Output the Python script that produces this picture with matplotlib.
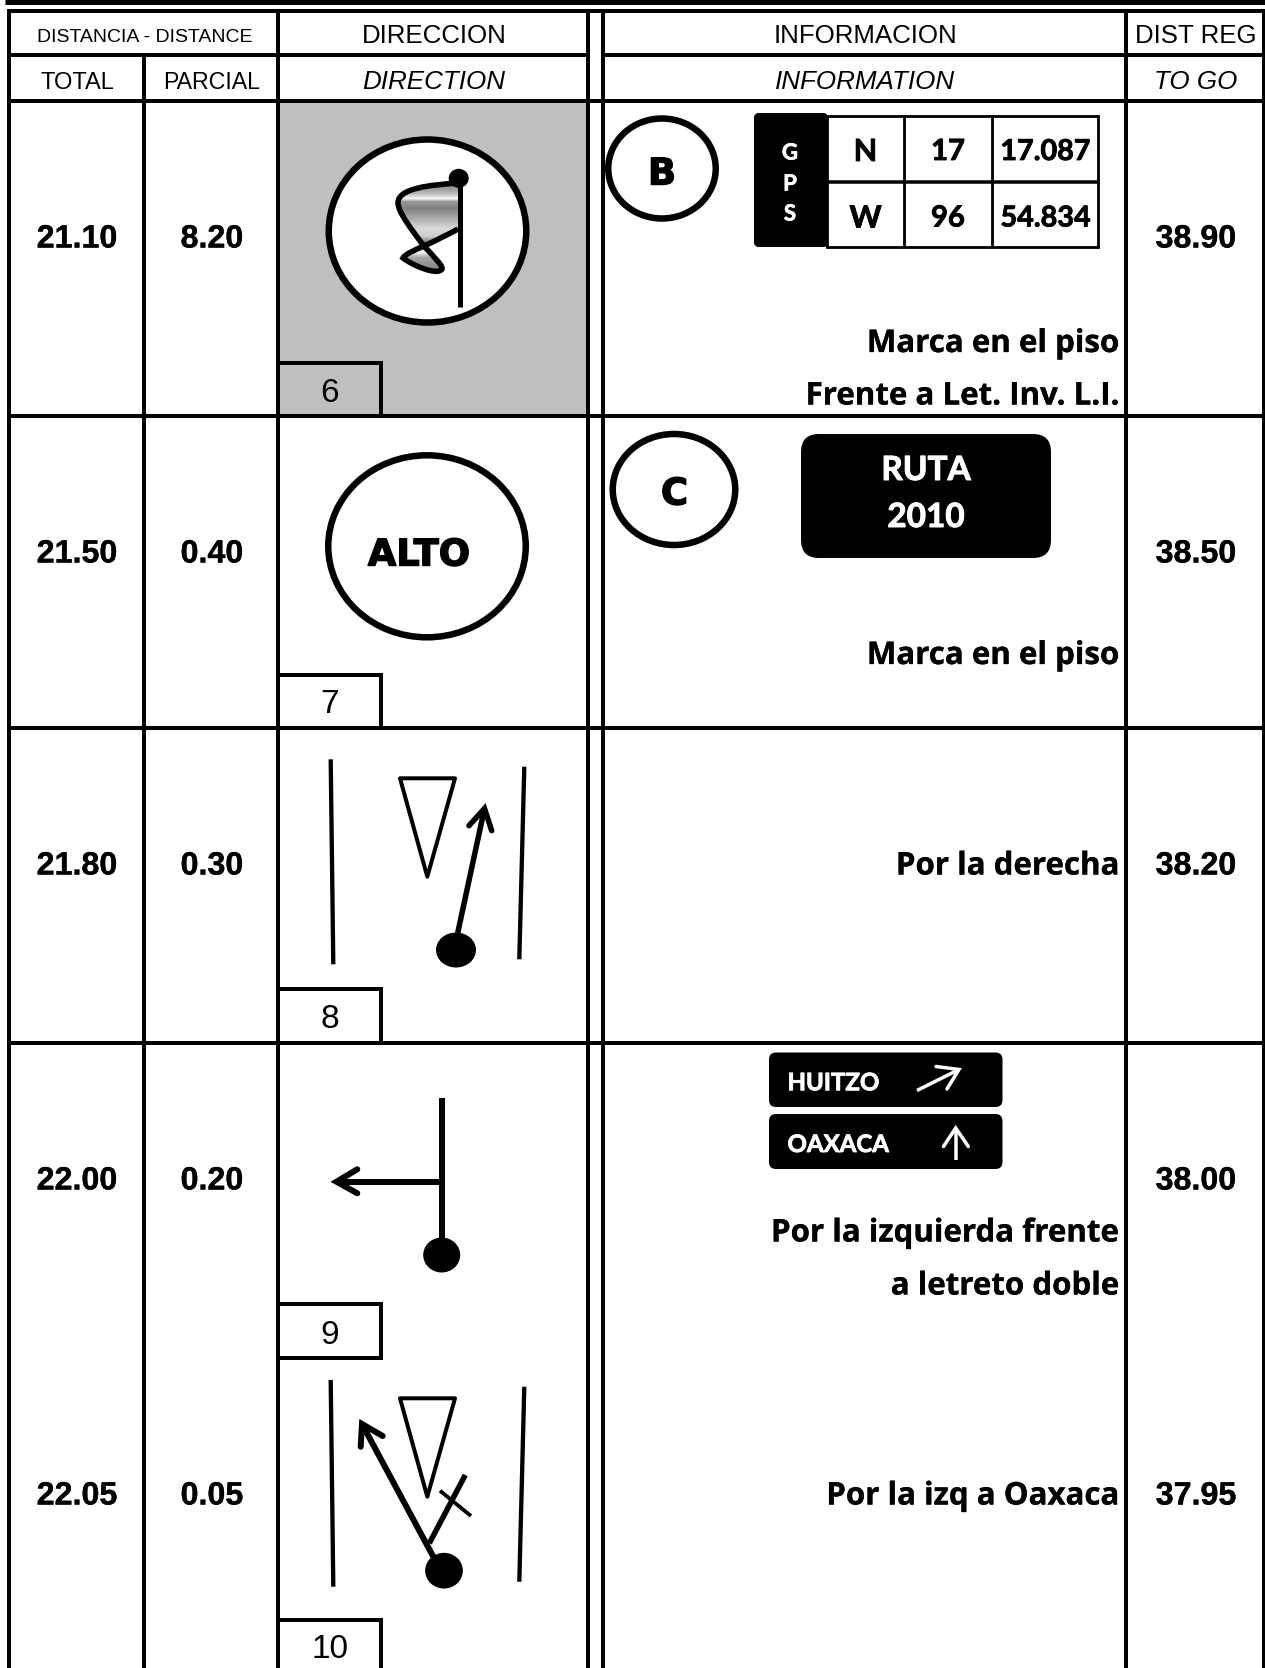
import numpy as np
import matplotlib
matplotlib.use("Agg")
import matplotlib.pyplot as plt
import matplotlib.patheffects as pe
from matplotlib.patches import Ellipse, FancyBboxPatch, Polygon, Rectangle, PathPatch
from matplotlib.path import Path

# ---- content ----
totals = ["21.10", "21.50", "21.80", "22.00", "22.05"]
partials = ["8.20", "0.40", "0.30", "0.20", "0.05"]
to_go = ["38.90", "38.50", "38.20", "38.00", "37.95"]
box_numbers = ["6", "7", "8", "9", "10"]
notes = [["Marca en el piso", "Frente a Let. Inv. L.I."], ["Marca en el piso"], ["Por la derecha"],
         ["Por la izquierda frente", "a letreto doble"], ["Por la izq a Oaxaca"]]
gps_rows = [["N", "17", "17.087"], ["W", "96", "54.834"]]
gps_label = ["G", "P", "S"]
route_label = ["RUTA", "2010"]
sign_labels = ["HUITZO", "OAXACA"]
marker_labels = ["B", "C"]

# ---- layout ----
W, H = 1265, 1668
ARIAL = "Liberation Sans"
NOTE = "Open Sans"
CAL = "Lato"
HEAVY = "DejaVu Sans"
row_y = [236, 551, 863, 1178, 1493]
box_top = [363, 675, 989, 1304, 1620]
box_bot = [415.5, 727.5, 1043, 1357.5, 1672]
box_text_y = [390, 700.5, 1016.5, 1331.5, 1646.5]
note_y = [[340.5, 393], [652.5], [863], [1230, 1283], [1493]]
X_L, X_T, X_D, X_G1, X_G2, X_I, X_R = 8.5, 144, 277.7, 588, 603, 1126, 1263.5


def px(v):
    return v * 0.72


fig = plt.figure(figsize=(W / 100, H / 100), dpi=100, facecolor="white")
ax = fig.add_axes([0, 0, 1, 1])


def line(xs, ys, w=4, cap="butt", color="black", z=4):
    ax.plot(xs, ys, color=color, lw=px(w), solid_capstyle=cap, solid_joinstyle="miter", zorder=z)


def txt(x, y, s, size, family=ARIAL, weight="normal", style="normal", ha="center", color="black", z=6, stroke=0):
    t = ax.text(x, y, s, fontsize=size, family=family, fontweight=weight, fontstyle=style,
                ha=ha, va="center_baseline", color=color, zorder=z)
    if stroke:
        t.set_path_effects([pe.withStroke(linewidth=stroke, foreground=color)])


def ell(cx, cy, w, h, lw=6.5, fc="white", z=3):
    ax.add_patch(Ellipse((cx, cy), w, h, fc=fc, ec="black", lw=px(lw), zorder=z))


def triangle(x0, x1, xm, y0, y1):
    ax.add_patch(Polygon([(x0, y0), (x1, y0), (xm, y1)], closed=True, fc="white", ec="black",
                         lw=px(4), joinstyle="round", zorder=3))


# grey cell
ax.add_patch(Rectangle((X_D, 100.7), X_G1 - X_D, 315, fc="#BFBFBF", ec="none", zorder=1))

# table rules
line([5, W], [2, 2], w=5)
line([X_L - 2, W], [11, 11])
line([X_L, X_G1], [55, 55])
line([X_G2, W], [55, 55])
line([X_L - 2, W], [100.7, 100.7])
for y in [415.7, 727.5, 1043]:
    line([X_L - 2, W], [y, y])
for x in [X_L, X_D, X_G1, X_G2, X_I, X_R]:
    line([x, x], [9, H])
line([X_T, X_T], [55, H])

# header
txt(144.7, 35.5, "DISTANCIA - DISTANCE", 14)
txt(434, 33.5, "DIRECCION", 18.6)
txt(865.5, 33.5, "INFORMACION", 18.6)
txt(1196, 33.5, "DIST REG", 18.6)
txt(77, 80, "TOTAL", 17)
txt(212, 80, "PARCIAL", 16.7)
txt(433.5, 79, "DIRECTION", 18.7, style="italic")
txt(865.5, 79, "INFORMATION", 18.7, style="italic")
txt(1196, 79, "TO GO", 18.7, style="italic")

# row values, boxes and notes
for i in range(5):
    txt(77, row_y[i], totals[i], 23.2, weight="bold", stroke=0.25)
    txt(212, row_y[i], partials[i], 23.2, weight="bold", stroke=0.25)
    txt(1196, row_y[i], to_go[i], 23.2, weight="bold", stroke=0.25)
    ax.add_patch(Rectangle((X_D, box_top[i]), 381 - X_D, box_bot[i] - box_top[i],
                           fc="#BFBFBF" if i == 0 else "white", ec="black", lw=px(4), zorder=3))
    txt(330, box_text_y[i], box_numbers[i], 24)
    for s, y in zip(notes[i], note_y[i]):
        txt(1119.5, y, s, 22.5, family=NOTE, weight="bold", ha="right", stroke=0.2)

# flag marker
ell(427.5, 231, 197.5, 183)
line([460, 460], [180, 307], w=5, z=5)
ax.add_patch(Ellipse((458.7, 178.3), 20, 19, fc="black", ec="none", zorder=5))
verts = [(458, 183), (430, 185), (398, 188), (398, 203),
         (398, 212), (412, 230), (423, 245),
         (432, 255), (446, 268), (441, 270),
         (435, 275), (412, 265), (403, 258),
         (405, 254), (415, 250), (424, 246),
         (435, 241), (447, 235), (458, 229)]
codes = [Path.MOVETO] + [Path.CURVE4] * 18
flag = Path(verts, codes)
upper = Path(verts[:7] + [(458, 229), (458, 183)], codes[:7] + [Path.LINETO, Path.LINETO])
lower = Path(verts[6:16], [Path.MOVETO] + [Path.CURVE4] * 9)
stops_y = [183, 193, 198, 201, 208, 228, 236, 244, 249, 252, 257, 271]
stops_v = [0.50, 0.72, 0.97, 0.60, 0.50, 0.85, 0.80, 0.35, 0.90, 0.95, 0.65, 0.50]
grad = np.interp(np.arange(180, 276), stops_y, stops_v).reshape(-1, 1)
for lobe in (upper, lower):
    im = ax.imshow(grad, extent=(390, 462, 276, 180), cmap="gray", vmin=0, vmax=1, aspect="auto", zorder=3.5)
    lobe_patch = PathPatch(lobe, fc="none", ec="none", transform=ax.transData)
    ax.add_patch(lobe_patch)
    im.set_clip_path(lobe_patch)
ax.add_patch(PathPatch(flag, fc="none", ec="black", lw=px(5.5), zorder=4))

# stop marker
ell(427, 546.3, 197.5, 182)
txt(419, 551, "ALTO", 26.5, family=HEAVY, weight="bold", stroke=1)

# lettered circles
ell(662, 168.5, 107.5, 100)
txt(662, 170, marker_labels[0], 26.5, family=HEAVY, weight="bold", stroke=1)
ell(674, 489.5, 122.5, 111)
txt(674.5, 490, marker_labels[1], 26.5, family=HEAVY, weight="bold", stroke=1)

# GPS table
ax.add_patch(FancyBboxPatch((755.5, 114.5), 71, 131, boxstyle="round,pad=0,rounding_size=3",
                            fc="black", ec="black", lw=px(3), zorder=3))
for s, y in zip(gps_label, [151, 182, 212]):
    txt(790, y, s, 16, family=CAL, weight="bold", color="white", stroke=0.5)
for x in [827, 904, 992, 1098]:
    line([x, x], [115, 248], w=2.8)
for y in [116, 182, 247]:
    line([826, 1099], [y, y], w=2.8 if y != 182 else 3.5)
for row, y in zip(gps_rows, [149.5, 216]):
    txt(865.5, y, row[0], 22, family=CAL, weight="bold", stroke=0.6)
    txt(948, y, row[1], 21, family=CAL, weight="bold", stroke=0.6)
    txt(1045.5, y, row[2], 20.7, family=CAL, weight="bold", stroke=0.6)

# route sign
ax.add_patch(FancyBboxPatch((801, 434), 250, 124, boxstyle="round,pad=0,rounding_size=18",
                            fc="black", ec="none", zorder=3))
txt(926, 468, route_label[0], 24, family=CAL, weight="bold", color="white", stroke=0.7)
txt(926, 515, route_label[1], 24, family=CAL, weight="bold", color="white", stroke=0.7)

# double road sign
for y0, y1, s in zip([1052.5, 1114], [1107, 1169], sign_labels):
    ax.add_patch(FancyBboxPatch((769, y0), 233.5, y1 - y0, boxstyle="round,pad=0,rounding_size=7",
                                fc="black", ec="none", zorder=3))
    txt(787.5, (y0 + y1) / 2 + 1, s, 17.3, family=CAL, weight="bold", ha="left", color="white", stroke=0.6)
line([917, 958], [1090.5, 1070], w=3.5, color="white", z=5)
line([936, 959, 947], [1066.5, 1069.5, 1089], w=3.5, color="white", cap="round", z=5)
line([955.7, 955.7], [1160, 1128], w=3.5, color="white", z=5)
line([943.5, 955.7, 968.3], [1146.5, 1128, 1146.5], w=3.5, color="white", cap="round", z=5)

# road diagrams
line([330.7, 333.3], [759.3, 964.3], w=4.3)
line([524.3, 519.3], [766.7, 959.3], w=4.3)
triangle(400, 455, 427.3, 778.3, 876.7)
ax.add_patch(Ellipse((456, 950), 40, 35, fc="black", ec="none", zorder=5))
line([457.7, 484.5], [933, 808.5], w=5.5)
line([469, 484.5, 491.7], [825.7, 808.5, 830.7], w=5.5, cap="round")

line([441.7, 441.7], [1098, 1255], w=6)
ax.add_patch(Ellipse((441.7, 1255), 37, 35, fc="black", ec="none", zorder=5))
line([441.7, 336], [1181.7, 1181.7], w=6)
line([357.3, 336.5, 357.3], [1169.3, 1181.7, 1193.3], w=6, cap="round")

line([330.7, 333.3], [1380, 1586.7], w=4.3)
line([524.3, 519.3], [1386.7, 1581.7], w=4.3)
triangle(400, 455, 427.3, 1398.3, 1496.7)
ax.add_patch(Ellipse((444, 1570.7), 37.7, 35.7, fc="black", ec="none", zorder=5))
line([433.3, 362], [1556.7, 1424], w=6)
line([360.7, 362, 382.7], [1446.7, 1424, 1436], w=6, cap="round")
line([429.3, 465.3], [1543.3, 1475], w=5.5)
line([440, 471], [1490.7, 1516], w=3.8)

ax.set_xlim(0, W)
ax.set_ylim(H, 0)
ax.axis("off")
fig.savefig("out.png", dpi=100, facecolor="white")
